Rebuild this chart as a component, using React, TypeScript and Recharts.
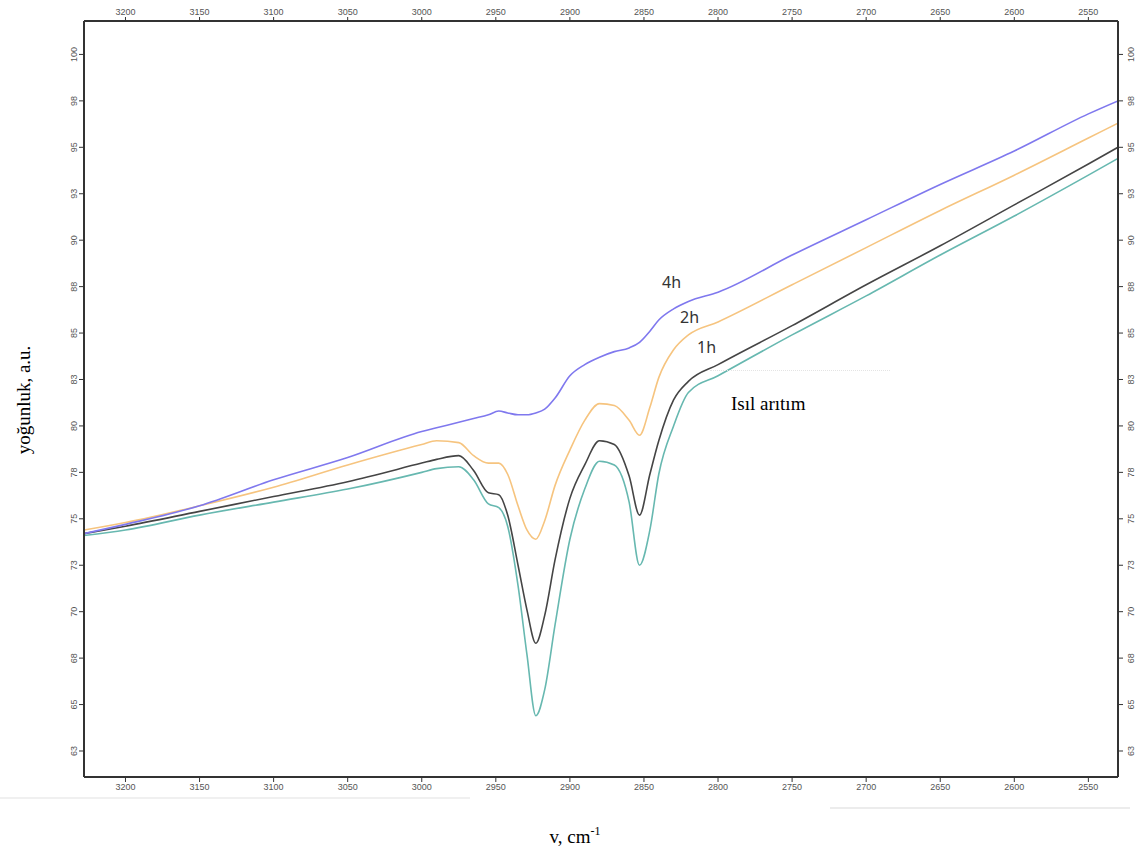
import React from "react";
import { LineChart, Line, XAxis, YAxis } from "recharts";

// wavenumbers (cm-1), shared by all four spectra
const wavenumbers = [
  3228, 3200, 3150, 3100, 3050, 3000, 2990, 2975, 2965, 2955, 2948, 2942, 2935,
  2929, 2923, 2917, 2910, 2900, 2890, 2880, 2870, 2860, 2853, 2846, 2840, 2830,
  2820, 2800, 2750, 2700, 2650, 2600, 2550, 2530,
];

const h4 = [
  74.2, 74.7, 75.7, 77.1, 78.3, 79.7, 79.9, 80.2, 80.4, 80.6, 80.8, 80.7, 80.6,
  80.6, 80.7, 80.9, 81.5, 82.7, 83.3, 83.7, 84.0, 84.2, 84.5, 85.1, 85.7, 86.3,
  86.7, 87.2, 89.2, 91.1, 93.0, 94.8, 96.8, 97.5,
];

const h2 = [
  74.4, 74.8, 75.7, 76.7, 77.9, 79.0, 79.2, 79.1, 78.4, 78.0, 78.0, 77.4, 75.7,
  74.4, 73.9, 74.9, 76.8, 78.7, 80.3, 81.2, 81.1, 80.3, 79.5, 81.0, 82.6, 84.1,
  84.9, 85.6, 87.6, 89.6, 91.6, 93.5, 95.5, 96.3,
];

const h1 = [
  74.2, 74.6, 75.4, 76.2, 77.0, 78.0, 78.2, 78.4, 77.6, 76.4, 76.3, 75.2, 72.5,
  70.1, 68.3, 69.8, 72.8, 76.1, 77.9, 79.2, 79.0, 77.3, 75.2, 77.4, 79.2, 81.4,
  82.4, 83.3, 85.4, 87.6, 89.7, 91.9, 94.1, 95.0,
];

const isil = [
  74.1, 74.4, 75.2, 75.9, 76.6, 77.5, 77.7, 77.8, 77.1, 75.8, 75.6, 74.6, 71.4,
  67.7, 64.4, 65.8, 69.3, 73.9, 76.6, 78.1, 77.9, 75.9, 72.5, 74.4, 77.4, 80.0,
  81.8, 82.7, 84.9, 87.0, 89.2, 91.3, 93.5, 94.4,
];

const xTicks = [
  3200, 3150, 3100, 3050, 3000, 2950, 2900, 2850, 2800, 2750, 2700, 2650, 2600,
  2550,
];
const yTicks = [
  62.5, 65, 67.5, 70, 72.5, 75, 77.5, 80, 82.5, 85, 87.5, 90, 92.5, 95, 97.5, 100,
];
const yTickLabels = [
  "63", "65", "68", "70", "73", "75", "78", "80", "83", "85", "88", "90", "93",
  "95", "98", "100",
];

const data = wavenumbers.map((wn, i) => ({
  wn,
  h4: h4[i],
  h2: h2[i],
  h1: h1[i],
  isil: isil[i],
}));

const tickFont = { fontFamily: "Liberation Sans, Arial, sans-serif", fontSize: 9, fill: "#555" };

const LeftTick = (props: any) => {
  const { x, y, payload } = props;
  const i = yTicks.indexOf(payload.value);
  return (
    <text x={x} y={y} transform={`rotate(-90, ${x}, ${y})`} textAnchor="middle" {...tickFont}>
      {yTickLabels[i]}
    </text>
  );
};

const RightTick = (props: any) => {
  const { x, y, payload } = props;
  const i = yTicks.indexOf(payload.value);
  const bx = x + 9;
  return (
    <text x={bx} y={y} transform={`rotate(-90, ${bx}, ${y})`} textAnchor="middle" {...tickFont}>
      {yTickLabels[i]}
    </text>
  );
};

const axisStyle = { stroke: "#333", strokeWidth: 2 };
const tickLine = { stroke: "#333", strokeWidth: 1 };

export default function App() {
  return (
    <div style={{ position: "absolute", left: 0, top: 0, width: 1145, height: 850, background: "#fff" }}>
      <LineChart
        width={1145}
        height={850}
        data={data}
        margin={{ top: 0, right: 0, bottom: 43, left: 44 }}
      >
        <XAxis
          xAxisId="bottom"
          dataKey="wn"
          type="number"
          domain={[2530, 3228]}
          reversed
          allowDataOverflow
          ticks={xTicks}
          height={30}
          axisLine={axisStyle}
          tickLine={tickLine}
          tick={tickFont}
          tickSize={5}
        />
        <XAxis
          xAxisId="top"
          orientation="top"
          dataKey="wn"
          type="number"
          domain={[2530, 3228]}
          reversed
          allowDataOverflow
          ticks={xTicks}
          height={21}
          axisLine={axisStyle}
          tickLine={tickLine}
          tick={tickFont}
          tickSize={4}
        />
        <YAxis
          yAxisId="left"
          type="number"
          domain={[61.1, 101.8]}
          allowDataOverflow
          ticks={yTicks}
          width={40}
          axisLine={axisStyle}
          tickLine={tickLine}
          tick={<LeftTick />}
          tickSize={5}
        />
        <YAxis
          yAxisId="right"
          orientation="right"
          type="number"
          domain={[61.1, 101.8]}
          allowDataOverflow
          ticks={yTicks}
          width={27}
          axisLine={axisStyle}
          tickLine={tickLine}
          tick={<RightTick />}
          tickSize={5}
        />
        <Line xAxisId="bottom" yAxisId="left" type="monotone" dataKey="isil" stroke="#67b8b0" strokeWidth={1.6} dot={false} isAnimationActive={false} />
        <Line xAxisId="bottom" yAxisId="left" type="monotone" dataKey="h1" stroke="#454545" strokeWidth={1.6} dot={false} isAnimationActive={false} />
        <Line xAxisId="bottom" yAxisId="left" type="monotone" dataKey="h2" stroke="#f6c47f" strokeWidth={1.6} dot={false} isAnimationActive={false} />
        <Line xAxisId="bottom" yAxisId="left" type="monotone" dataKey="h4" stroke="#7f78ee" strokeWidth={1.6} dot={false} isAnimationActive={false} />
      </LineChart>

      <div style={{ position: "absolute", left: 662, top: 271, fontFamily: "Noto Sans, sans-serif", fontSize: 16, color: "#333" }}>4h</div>
      <div style={{ position: "absolute", left: 680, top: 306, fontFamily: "Noto Sans, sans-serif", fontSize: 16, color: "#333" }}>2h</div>
      <div style={{ position: "absolute", left: 697, top: 336, fontFamily: "Noto Sans, sans-serif", fontSize: 16, color: "#333" }}>1h</div>
      <div style={{ position: "absolute", left: 731, top: 393, fontFamily: "Liberation Serif, Times New Roman, serif", fontSize: 19, color: "#000" }}>Isıl arıtım</div>
      <div style={{ position: "absolute", left: 710, top: 370, width: 180, borderTop: "1px dotted #e4e4e4" }} />

      <div
        style={{
          position: "absolute",
          left: 24,
          top: 400,
          transform: "translate(-50%, -50%) rotate(-90deg)",
          fontFamily: "Liberation Serif, Times New Roman, serif",
          fontSize: 19,
          color: "#000",
          whiteSpace: "nowrap",
        }}
      >
        yoğunluk, a.u.
      </div>
      <div
        style={{
          position: "absolute",
          left: 575,
          top: 836,
          transform: "translate(-50%, -50%)",
          fontFamily: "Liberation Serif, Times New Roman, serif",
          fontSize: 19,
          color: "#000",
          whiteSpace: "nowrap",
        }}
      >
        v, cm<sup style={{ fontSize: 12 }}>-1</sup>
      </div>
      <div style={{ position: "absolute", left: 0, top: 797, width: 470, borderTop: "2px solid #f0f0f0" }} />
      <div style={{ position: "absolute", left: 830, top: 807, width: 300, borderTop: "2px solid #ececec" }} />
    </div>
  );
}
